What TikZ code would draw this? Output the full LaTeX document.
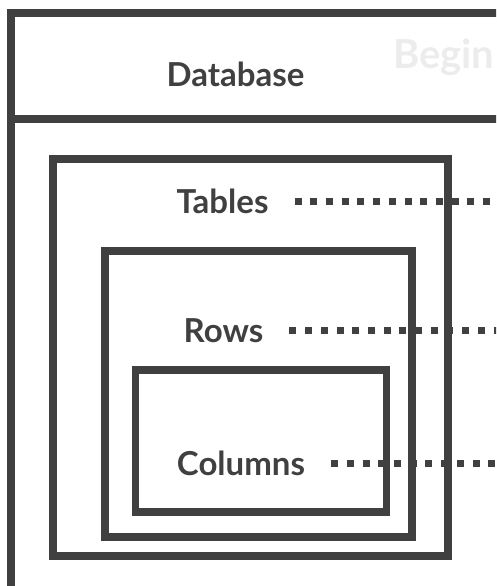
\documentclass[tikz,border=0pt]{standalone}
\usepackage{fontspec}
\setmainfont{Lato}
\definecolor{ink}{HTML}{404040}
\definecolor{ghost}{HTML}{ECECEC}
\begin{document}
\begin{tikzpicture}[x=1pt,y=-1pt,
    frame/.style={draw=ink, line width=7.5pt},
    lbl/.style={anchor=base, inner sep=0pt, text=ink, font=\fontsize{33}{36}\selectfont\bfseries, text height=24pt, text depth=0pt},
    dotline/.style={draw=ink, line width=7pt, dash pattern=on 7pt off 8.7pt, shorten <=26pt}]
\useasboundingbox (0,0) rectangle (496,586);
\clip (0,0) rectangle (496,586);
\coordinate (edge) at (520,0);
% outer box with its heading strip
\draw[frame] (11,13) rectangle (560,660);
\draw[frame] (11,119) -- (560,119);
\node[lbl] (db) at (235.5,86) {Database};
\node[lbl, text=ghost, anchor=base west, font=\fontsize{40}{44}\selectfont\bfseries] (begin) at (393,68) {Begin};
% nested boxes
\draw[frame] (53,159) rectangle (448,556);
\draw[frame] (105,251) rectangle (412,537);
\draw[frame] (135.5,370) rectangle (386.5,512);
\node[lbl] (tab) at (222.5,213) {Tables};
\node[lbl] (row) at (223.5,342) {Rows};
\node[lbl] (col) at (241,475) {Columns};
\draw[dotline] (tab.east) -- (tab.east -| edge);
\draw[dotline] (row.east) -- (row.east -| edge);
\draw[dotline] (col.east) -- (col.east -| edge);
\end{tikzpicture}
\end{document}
